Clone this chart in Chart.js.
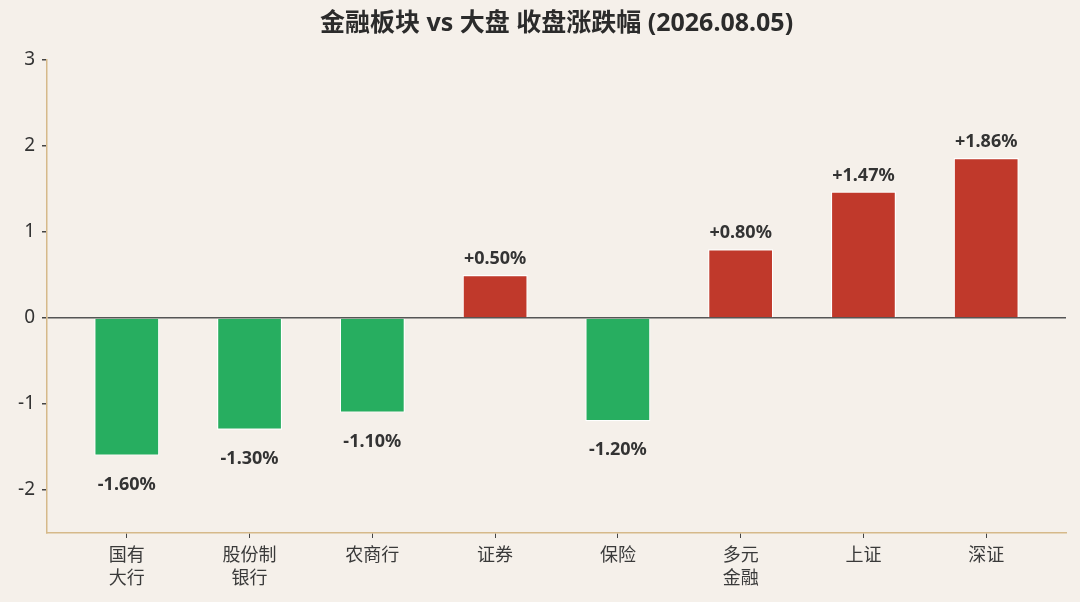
<!DOCTYPE html>
<html>
<head>
<meta charset="utf-8">
<script src="https://cdn.jsdelivr.net/npm/chart.js@4.4.1/dist/chart.umd.min.js"></script>
<style>
  html, body { margin: 0; padding: 0; background: #f5f0ea; }
  #wrap { width: 1080px; height: 602px; position: relative; }
</style>
</head>
<body>
<div id="wrap"><canvas id="c"></canvas></div>
<script>
const TITLE = "金融板块 vs 大盘 收盘涨跌幅 (2026.08.05)"
const categories = [["国有", "大行"], ["股份制", "银行"], "农商行", "证券", "保险", ["多元", "金融"], "上证", "深证"]
const changes = [-1.60, -1.30, -1.10, 0.50, -1.20, 0.80, 1.47, 1.86]
const yTicks = [3, 2, 1, 0, -1, -2]

const UP = "#c0392b"
const DOWN = "#27ae60"
const FONT = "'Noto Sans', 'Noto Sans CJK SC', sans-serif"

// value labels above / below each bar
const valueLabels = {
  id: "valueLabels",
  afterDatasetsDraw(chart) {
    const { ctx } = chart
    const meta = chart.getDatasetMeta(0)
    ctx.save()
    ctx.font = `bold 18px ${FONT}`
    ctx.fillStyle = "#333"
    ctx.textAlign = "center"
    meta.data.forEach((bar, i) => {
      const v = changes[i]
      const txt = (v > 0 ? "+" : "") + v.toFixed(2) + "%"
      if (v >= 0) {
        ctx.textBaseline = "bottom"
        ctx.fillText(txt, bar.x, bar.y - 7)
      } else {
        ctx.textBaseline = "top"
        ctx.fillText(txt, bar.x, bar.y + 20)
      }
    })
    ctx.restore()
  }
}

// title centred over the plot area
const plotTitle = {
  id: "plotTitle",
  afterDraw(chart) {
    const { ctx, chartArea } = chart
    ctx.save()
    ctx.font = `bold 25px ${FONT}`
    ctx.fillStyle = "#2b2b2b"
    ctx.textAlign = "center"
    ctx.textBaseline = "middle"
    ctx.fillText(TITLE, (chartArea.left + chartArea.right) / 2, 24)
    ctx.restore()
  }
}

const canvas = document.getElementById("c")
canvas.width = 1080
canvas.height = 602

new Chart(canvas, {
  type: "bar",
  data: {
    datasets: [{
      data: changes.map((v, i) => ({ x: i, y: v })),
      backgroundColor: changes.map(v => v >= 0 ? UP : DOWN),
      borderColor: "#ffffff",
      borderWidth: 1.2,
      barPercentage: 0.53,
      categoryPercentage: 1
    }]
  },
  options: {
    responsive: false,
    animation: false,
    devicePixelRatio: 1,
    layout: { padding: { top: 60, right: 14, left: 0, bottom: 0 } },
    plugins: {
      legend: { display: false },
      tooltip: { enabled: false }
    },
    scales: {
      x: {
        type: "linear",
        min: -0.65,
        max: 7.65,
        offset: false,
        afterBuildTicks: (scale) => {
          scale.ticks = categories.map((_, i) => ({ value: i }))
        },
        afterFit: (scale) => { scale.height = 69 },
        ticks: {
          callback: (v) => categories[v],
          color: "#3a3a3a",
          font: { family: FONT, size: 18, lineHeight: 1.25 },
          padding: 7,
          maxRotation: 0,
          autoSkip: false
        },
        grid: {
          offset: false,
          drawOnChartArea: false,
          drawTicks: true,
          tickLength: 5,
          tickColor: "#444",
          color: "#444"
        },
        border: { color: "#d6b98a", width: 1.5 }
      },
      y: {
        min: -2.5,
        max: 3,
        afterBuildTicks: (scale) => {
          scale.ticks = yTicks.map(v => ({ value: v }))
        },
        afterFit: (scale) => { scale.width = 47 },
        ticks: {
          color: "#333",
          font: { family: FONT, size: 19 },
          padding: 7
        },
        grid: {
          drawTicks: true,
          tickLength: 5,
          tickColor: "#444",
          lineWidth: 1.5,
          color: (ctx) => ctx.tick && ctx.tick.value === 0 ? "#555" : "rgba(0,0,0,0)"
        },
        border: { color: "#d6b98a", width: 1.5 }
      }
    }
  },
  plugins: [valueLabels, plotTitle]
})
</script>
</body>
</html>
